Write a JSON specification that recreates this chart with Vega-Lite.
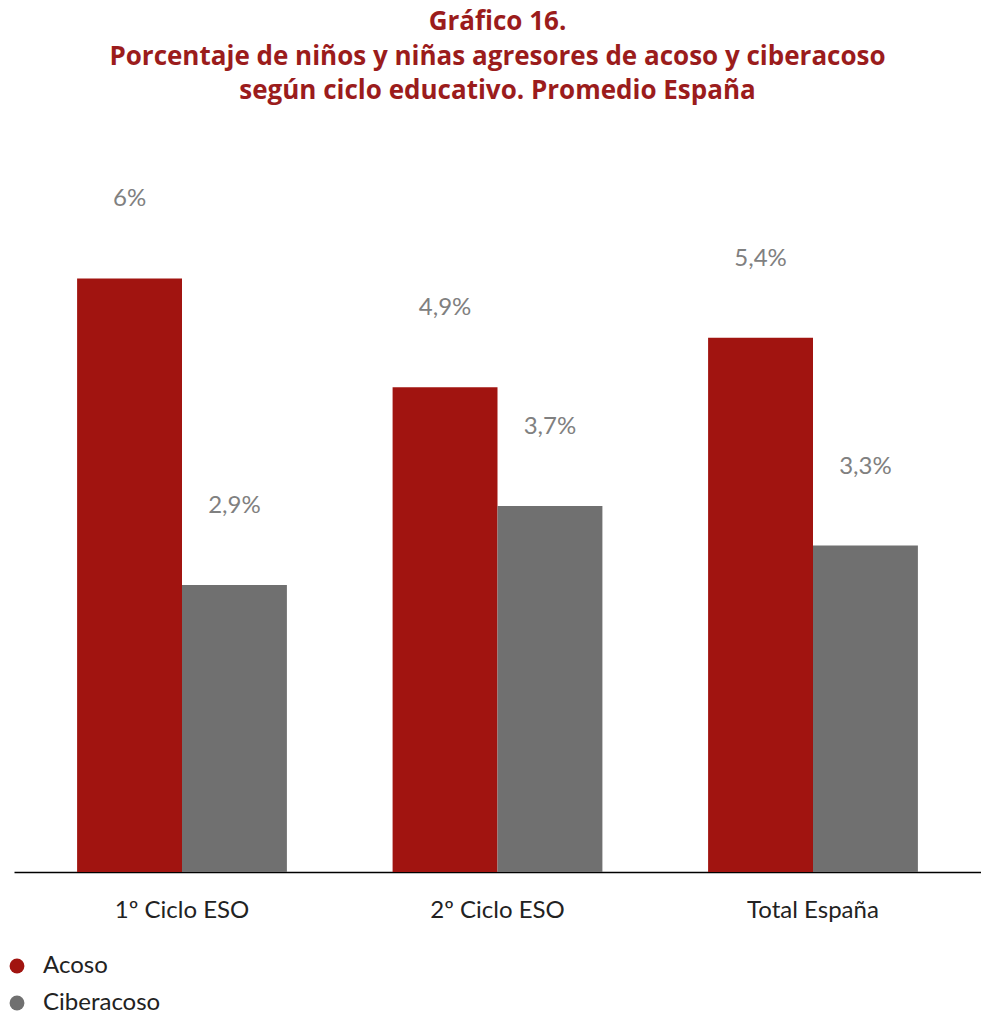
{
  "$schema": "https://vega.github.io/schema/vega-lite/v6.json",
  "width": 967,
  "height": 742,
  "autosize": "none",
  "padding": {"left": 14, "top": 130, "right": 0, "bottom": 149},
  "background": "white",
  "title": {
    "text": ["Gráfico 16.", "Porcentaje de niños y niñas agresores de acoso y ciberacoso", "según ciclo educativo. Promedio España"],
    "font": "Open Sans",
    "fontSize": 26,
    "fontWeight": "bold",
    "color": "#9b1c1c",
    "lineHeight": 34.5,
    "anchor": "middle",
    "offset": 26
  },
  "config": {"view": {"stroke": null}, "font": "Lato"},
  "data": {
    "values": [
      {"ciclo": "1º Ciclo ESO", "tipo": "Acoso", "valor": 6.0, "etiqueta": "6%"},
      {"ciclo": "1º Ciclo ESO", "tipo": "Ciberacoso", "valor": 2.9, "etiqueta": "2,9%"},
      {"ciclo": "2º Ciclo ESO", "tipo": "Acoso", "valor": 4.9, "etiqueta": "4,9%"},
      {"ciclo": "2º Ciclo ESO", "tipo": "Ciberacoso", "valor": 3.7, "etiqueta": "3,7%"},
      {"ciclo": "Total España", "tipo": "Acoso", "valor": 5.4, "etiqueta": "5,4%"},
      {"ciclo": "Total España", "tipo": "Ciberacoso", "valor": 3.3, "etiqueta": "3,3%"}
    ]
  },
  "encoding": {
    "x": {
      "field": "ciclo",
      "type": "nominal",
      "sort": ["1º Ciclo ESO", "2º Ciclo ESO", "Total España"],
      "scale": {"paddingInner": 0.335, "paddingOuter": 0.2},
      "axis": {
        "title": null,
        "labelAngle": 0,
        "labelFontSize": 24,
        "labelColor": "#222222",
        "labelPadding": 26,
        "ticks": false,
        "domainColor": "#000000",
        "domainWidth": 1.5,
        "labelFont": "Lato"
      }
    },
    "xOffset": {"field": "tipo", "sort": ["Acoso", "Ciberacoso"]},
    "y": {"field": "valor", "type": "quantitative", "scale": {"domain": [0, 7.5]}, "axis": null}
  },
  "layer": [
    {
      "mark": {"type": "bar"},
      "encoding": {
        "color": {
          "field": "tipo",
          "type": "nominal",
          "scale": {"domain": ["Acoso", "Ciberacoso"], "range": ["#a11410", "#707070"]},
          "legend": {
            "title": null,
            "orient": "none",
            "legendX": -9,
            "legendY": 824,
            "symbolType": "circle",
            "symbolSize": 220,
            "symbolStrokeWidth": 0,
            "labelFontSize": 24,
            "labelColor": "#222222",
            "labelFont": "Lato",
            "labelOffset": 14,
            "rowPadding": 13
          }
        }
      }
    },
    {
      "mark": {"type": "text", "dy": -79, "fontSize": 24, "color": "#808080", "font": "Lato"},
      "encoding": {"text": {"field": "etiqueta"}}
    }
  ]
}
